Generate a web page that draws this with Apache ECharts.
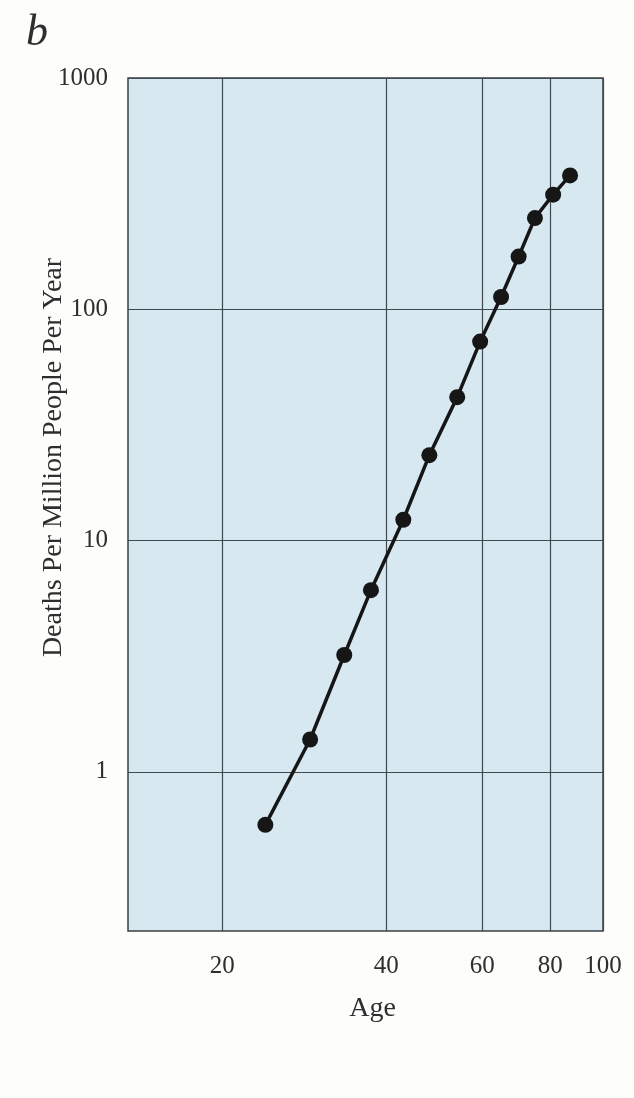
<!DOCTYPE html>
<html>
<head>
<meta charset="utf-8">
<script src="https://cdn.jsdelivr.net/npm/echarts@6/dist/echarts.min.js"></script>
<style>
  html, body { margin: 0; padding: 0; background: #fdfdfb; }
  #chart { width: 634px; height: 1098px; }
</style>
</head>
<body>
<div id="chart"></div>
<script>
// ages (x, log scale) and deaths per million per year (y, log scale)
const ages = [24, 29, 33.5, 37.5, 43, 48, 54, 59.5, 65, 70, 75, 81, 87];
const deaths = [0.59, 1.38, 3.2, 6.1, 12.3, 23.4, 41.7, 72.5, 113, 169, 248, 313, 379];
const xTicks = [20, 40, 60, 80, 100];
const yTicks = [1, 10, 100, 1000];

const serif = '"Liberation Serif", "DejaVu Serif", serif';
const textColor = '#2e2e2e';
const gridColor = '#3d4a50';

const chart = echarts.init(document.getElementById('chart'), null, { renderer: 'canvas' });

const option = {
  animation: false,
  backgroundColor: '#fdfdfb',
  title: {
    text: 'b',
    left: 21,
    top: 6,
    textStyle: { fontFamily: serif, fontStyle: 'italic', fontWeight: 'normal', fontSize: 44, color: textColor }
  },
  grid: {
    left: 128,
    right: 31,
    top: 78,
    bottom: 167,
    show: true,
    backgroundColor: '#d7e8f1',
    borderColor: '#3a3f42',
    borderWidth: 1.5
  },
  xAxis: {
    type: 'log',
    logBase: 10,
    min: 13.43,
    max: 100,
    name: 'Age',
    nameLocation: 'middle',
    nameGap: 64,
    nameMoveOverlap: false,
    nameTextStyle: { fontFamily: serif, fontSize: 28, color: textColor, padding: [0, 0, 0, 14] },
    axisLine: { show: false },
    axisTick: { show: false, customValues: xTicks },
    axisLabel: {
      customValues: xTicks,
      margin: 23,
      fontFamily: serif,
      fontSize: 25,
      color: textColor,
      formatter: v => String(v)
    },
    splitLine: { show: true, lineStyle: { color: gridColor, width: 1.2 } }
  },
  yAxis: {
    type: 'log',
    logBase: 10,
    min: 0.205,
    max: 1000,
    name: 'Deaths Per Million People Per Year',
    nameLocation: 'middle',
    nameGap: 60,
    nameMoveOverlap: false,
    nameTextStyle: { fontFamily: serif, fontSize: 28, color: textColor, padding: [0, 0, 0, 94] },
    axisLine: { show: false },
    axisTick: { show: false, customValues: yTicks },
    axisLabel: {
      customValues: yTicks,
      margin: 20,
      fontFamily: serif,
      fontSize: 25,
      color: textColor,
      formatter: v => String(v)
    },
    splitLine: { show: true, lineStyle: { color: gridColor, width: 1.2 } }
  },
  series: [{
    type: 'line',
    data: ages.map((a, i) => [a, deaths[i]]),
    symbol: 'circle',
    symbolSize: 16,
    lineStyle: { color: '#161616', width: 3.5 },
    itemStyle: { color: '#161616' }
  }]
};

chart.setOption(option);
</script>
</body>
</html>
